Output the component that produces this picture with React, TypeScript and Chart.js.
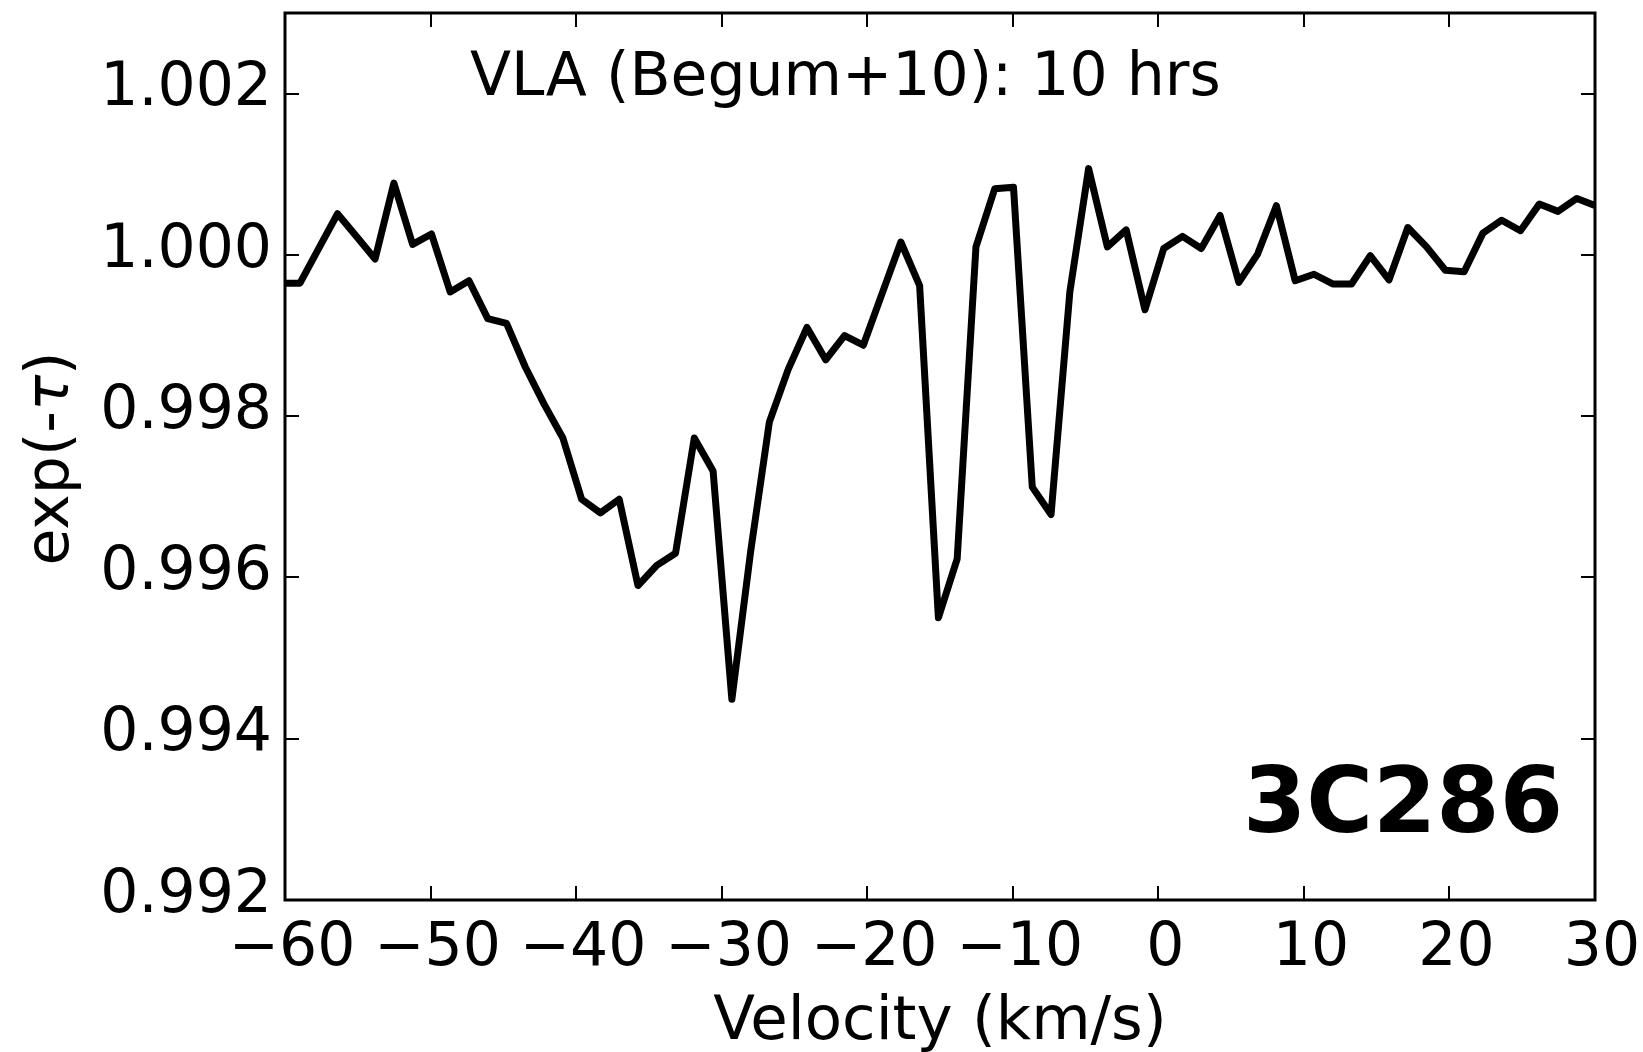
import React, { useEffect, useRef } from 'react';
import { Chart, registerables } from 'chart.js';

Chart.register(...registerables);

// Velocity channels (km/s) and exp(-tau) values
const VELOCITY = [
  -60.26, -58.97, -57.68, -56.39, -55.10, -53.81, -52.52, -51.23, -49.94, -48.65,
  -47.36, -46.07, -44.78, -43.49, -42.20, -40.91, -39.62, -38.33, -37.04, -35.75,
  -34.46, -33.17, -31.88, -30.59, -29.30, -28.01, -26.72, -25.43, -24.14, -22.85,
  -21.56, -20.27, -18.98, -17.69, -16.40, -15.11, -13.82, -12.53, -11.24, -9.95,
  -8.66, -7.37, -6.08, -4.79, -3.50, -2.21, -0.92, 0.37, 1.66, 2.95,
  4.24, 5.53, 6.82, 8.11, 9.40, 10.69, 11.98, 13.27, 14.56, 15.85,
  17.14, 18.43, 19.72, 21.01, 22.30, 23.59, 24.88, 26.17, 27.46, 28.75,
  30.04,
];

const EXP_TAU = [
  0.99965, 0.99965, 1.00008, 1.00051, 1.00023, 0.99995, 1.00089, 1.00013, 1.00026, 0.99954,
  0.99968, 0.99921, 0.99915, 0.99861, 0.99815, 0.99773, 0.99697, 0.99680, 0.99697, 0.99590,
  0.99615, 0.99630, 0.99773, 0.99732, 0.99449, 0.99632, 0.99793, 0.99858, 0.99910, 0.99870,
  0.99900, 0.99888, 0.99952, 1.00016, 0.99962, 0.99550, 0.99623, 1.00010, 1.00082, 1.00084,
  0.99712, 0.99678, 0.99954, 1.00107, 1.00010, 1.00031, 0.99932, 1.00008, 1.00023, 1.00008,
  1.00049, 0.99966, 1.00001, 1.00061, 0.99968, 0.99976, 0.99964, 0.99964, 0.99999, 0.99969,
  1.00034, 1.00010, 0.99981, 0.99979, 1.00027, 1.00043, 1.00030, 1.00063, 1.00054, 1.00070,
  1.00061,
];

const X_TICKS = [-60, -50, -40, -30, -20, -10, 0, 10, 20, 30];
const Y_TICKS = [0.992, 0.994, 0.996, 0.998, 1.0, 1.002];
const X_MIN = -60;
const X_MAX = 30;
const Y_MIN = 0.992;
const Y_MAX = 1.003;

const X_TITLE = 'Velocity (km/s)';
const Y_TITLE_PARTS = [
  { text: 'exp(-', italic: false },
  { text: '\u03c4', italic: true },
  { text: ')', italic: false },
];
const NOTE_TEXT = 'VLA (Begum+10): 10 hrs';
const SOURCE_LABEL = '3C286';

const FONT = '"DejaVu Sans", "Liberation Sans", sans-serif';

const framePlugin = {
  id: 'framePlugin',
  afterDraw(chart: any) {
    const { ctx, chartArea: a, scales } = chart;
    const tickLen = 14;
    ctx.save();
    ctx.strokeStyle = '#000';
    ctx.lineWidth = 2;
    ctx.beginPath();
    for (const v of X_TICKS) {
      const px = Math.round(scales.x.getPixelForValue(v));
      ctx.moveTo(px, a.bottom);
      ctx.lineTo(px, a.bottom - tickLen);
      ctx.moveTo(px, a.top);
      ctx.lineTo(px, a.top + tickLen);
    }
    for (const v of Y_TICKS) {
      const py = Math.round(scales.y.getPixelForValue(v));
      ctx.moveTo(a.left, py);
      ctx.lineTo(a.left + tickLen, py);
      ctx.moveTo(a.right, py);
      ctx.lineTo(a.right - tickLen, py);
    }
    ctx.stroke();
    ctx.lineWidth = 3;
    ctx.strokeRect(a.left, a.top, a.right - a.left, a.bottom - a.top);

    ctx.fillStyle = '#000';
    ctx.textBaseline = 'alphabetic';
    ctx.font = `60px ${FONT}`;
    ctx.textAlign = 'left';
    ctx.fillText(NOTE_TEXT, a.left + 185, a.top + 82);

    ctx.font = `bold 91px ${FONT}`;
    ctx.textAlign = 'right';
    ctx.fillText(SOURCE_LABEL, a.right - 32, a.bottom - 68);

    // y-axis title with italic tau
    ctx.save();
    ctx.translate(52, (a.top + a.bottom) / 2 + 2);
    ctx.rotate(-Math.PI / 2);
    ctx.textBaseline = 'middle';
    ctx.textAlign = 'left';
    const fontFor = (it: boolean) => `${it ? 'italic ' : ''}60px ${FONT}`;
    let total = 0;
    const widths = Y_TITLE_PARTS.map((p) => {
      ctx.font = fontFor(p.italic);
      const w = ctx.measureText(p.text).width;
      total += w;
      return w;
    });
    let xx = -total / 2;
    Y_TITLE_PARTS.forEach((p, i) => {
      ctx.font = fontFor(p.italic);
      ctx.fillText(p.text, xx, 0);
      xx += widths[i];
    });
    ctx.restore();

    ctx.restore();
  },
};

export default function App() {
  const canvasRef = useRef<HTMLCanvasElement | null>(null);

  useEffect(() => {
    const canvas = canvasRef.current;
    if (!canvas) return;
    const points = VELOCITY.map((v, i) => ({ x: v, y: EXP_TAU[i] }));

    const chart = new Chart(canvas, {
      type: 'line',
      data: {
        datasets: [
          {
            data: points,
            borderColor: '#000',
            borderWidth: 7,
            borderJoinStyle: 'round',
            borderCapStyle: 'butt',
            pointRadius: 0,
            tension: 0,
            fill: false,
            clip: 0,
          } as any,
        ],
      },
      options: {
        responsive: false,
        animation: false,
        devicePixelRatio: 1,
        layout: { padding: { top: 13, right: 48, bottom: 0, left: 0 } },
        plugins: {
          legend: { display: false },
          tooltip: { enabled: false },
        },
        scales: {
          x: {
            type: 'linear',
            min: X_MIN,
            max: X_MAX,
            grid: { display: false },
            border: { display: false },
            afterBuildTicks: (scale: any) => {
              scale.ticks = X_TICKS.map((v) => ({ value: v }));
            },
            afterFit: (scale: any) => {
              scale.height = 152;
              scale.paddingLeft = 0;
              scale.paddingRight = 0;
            },
            ticks: {
              color: '#000',
              font: { family: FONT, size: 60 },
              padding: 5,
              labelOffset: 7,
              maxRotation: 0,
              autoSkip: false,
              callback: (value: any) => {
                const n = Number(value);
                return n < 0 ? '\u2212' + Math.abs(n) : String(n);
              },
            },
            title: {
              display: true,
              text: X_TITLE,
              color: '#000',
              font: { family: FONT, size: 61 },
              padding: { top: 0, bottom: -8 },
            },
          },
          y: {
            type: 'linear',
            min: Y_MIN,
            max: Y_MAX,
            grid: { display: false },
            border: { display: false },
            afterBuildTicks: (scale: any) => {
              scale.ticks = Y_TICKS.map((v) => ({ value: v }));
            },
            afterFit: (scale: any) => {
              scale.width = 285;
              scale.paddingTop = 0;
              scale.paddingBottom = 0;
            },
            ticks: {
              color: '#000',
              font: { family: FONT, size: 60 },
              padding: 5,
              labelOffset: -4,
              autoSkip: false,
              callback: (value: any) => Number(value).toFixed(3),
            },
          },
        },
      },
      plugins: [framePlugin],
    });

    return () => chart.destroy();
  }, []);

  return (
    <div style={{ position: 'absolute', left: 0, top: 0, width: 1643, height: 1052, background: '#fff' }}>
      <canvas ref={canvasRef} width={1643} height={1052} style={{ display: 'block', width: 1643, height: 1052 }} />
    </div>
  );
}
